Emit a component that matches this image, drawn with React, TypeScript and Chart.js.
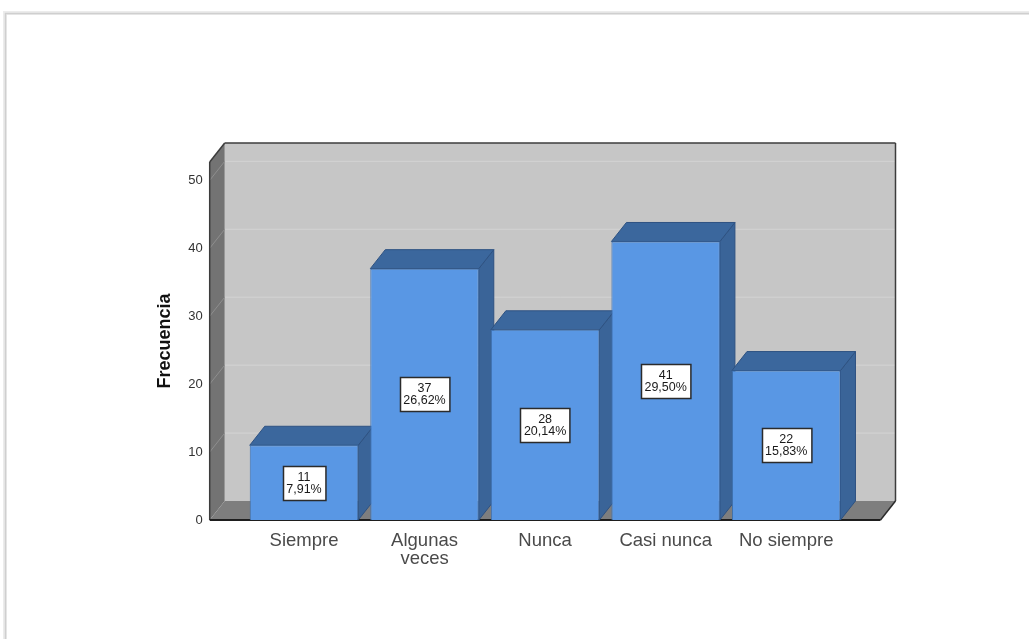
import { useEffect, useRef } from "react";
import { Chart, registerables } from "chart.js";

Chart.register(...registerables);

const categories: (string | string[])[] = ["Siempre", ["Algunas", "veces"], "Nunca", "Casi nunca", "No siempre"];
const frequencies = [11, 37, 28, 41, 22];
const percentLabels = ["7,91%", "26,62%", "20,14%", "29,50%", "15,83%"];
const yTicks = [0, 10, 20, 30, 40, 50];
const yMax = 52.7;
const yTitle = "Frecuencia";

const FONT = "'Liberation Sans', Arial, sans-serif";
const DX = 15;
const DY = 19;
const WALL = 34;

function poly(ctx: CanvasRenderingContext2D, pts: number[][], fill: string, stroke?: string, lw = 1) {
  ctx.beginPath();
  ctx.moveTo(pts[0][0], pts[0][1]);
  for (let i = 1; i < pts.length; i++) ctx.lineTo(pts[i][0], pts[i][1]);
  ctx.closePath();
  ctx.fillStyle = fill;
  ctx.fill();
  if (stroke) {
    ctx.strokeStyle = stroke;
    ctx.lineWidth = lw;
    ctx.stroke();
  }
}

function line(ctx: CanvasRenderingContext2D, x1: number, y1: number, x2: number, y2: number, color: string, lw = 1) {
  ctx.beginPath();
  ctx.moveTo(x1, y1);
  ctx.lineTo(x2, y2);
  ctx.strokeStyle = color;
  ctx.lineWidth = lw;
  ctx.stroke();
}

const threeD = {
  id: "threeD",
  beforeDraw(chart: any) {
    const ctx = chart.ctx as CanvasRenderingContext2D;
    ctx.save();
    ctx.fillStyle = "#ffffff";
    ctx.fillRect(0, 0, chart.width, chart.height);
    ctx.strokeStyle = "#ececec";
    ctx.lineWidth = 4;
    ctx.strokeRect(5, 13, chart.width + 40, chart.height + 40);
    ctx.strokeStyle = "#cfcfcf";
    ctx.lineWidth = 1.5;
    ctx.strokeRect(5.5, 13.5, chart.width + 40, chart.height + 40);
    ctx.restore();
  },
  beforeDatasetsDraw(chart: any) {
    const ctx = chart.ctx as CanvasRenderingContext2D;
    const a = chart.chartArea;
    const ys = chart.scales.y;
    const fl = a.left - WALL, fr = a.right + WALL, ft = a.top, fb = a.bottom;
    const bl = fl + DX, br = fr + DX, bt = ft - DY, bb = fb - DY;
    ctx.save();
    // back wall
    ctx.fillStyle = "#c6c6c6";
    ctx.fillRect(bl, bt, br - bl, bb - bt);
    yTicks.forEach((v) => {
      if (v === 0) return;
      const py = ys.getPixelForValue(v) - DY;
      line(ctx, bl, py, br, py, "#d4d4d4", 1);
    });
    // left wall
    poly(ctx, [[fl, ft], [bl, bt], [bl, bb], [fl, fb]], "#737373");
    yTicks.forEach((v) => {
      if (v === 0) return;
      const py = ys.getPixelForValue(v);
      line(ctx, fl, py, bl, py - DY, "#8e8e8e", 1);
    });
    // floor
    poly(ctx, [[fl, fb], [bl, bb], [br, bb], [fr, fb]], "#7e7e7e");
    // outlines
    line(ctx, fl, ft, bl, bt, "#3c3c3c", 1.5);
    line(ctx, bl, bt, br, bt, "#3c3c3c", 1.5);
    line(ctx, br, bt, br, bb, "#3c3c3c", 1.5);
    line(ctx, br, bb, fr, fb, "#2a2a2a", 1.5);
    line(ctx, fl, ft, fl, fb, "#3c3c3c", 1.5);
    line(ctx, fl, fb, fr, fb, "#1e1e1e", 2);
    // bar sides and tops
    const meta = chart.getDatasetMeta(0);
    meta.data.forEach((bar: any) => {
      const { x, y, base, width } = bar.getProps(["x", "y", "base", "width"], true);
      const xl = x - width / 2, xr = x + width / 2;
      poly(ctx, [[xr, y], [xr + DX, y - DY], [xr + DX, base - DY], [xr, base]], "#3a6498", "#2e5282", 1);
      poly(ctx, [[xl, y], [xl + DX, y - DY], [xr + DX, y - DY], [xr, y]], "#3b679d", "#2e5282", 1);
    });
    ctx.restore();
  },
  afterDatasetsDraw(chart: any) {
    const ctx = chart.ctx as CanvasRenderingContext2D;
    const meta = chart.getDatasetMeta(0);
    ctx.save();
    ctx.font = `12.5px ${FONT}`;
    ctx.textAlign = "center";
    ctx.textBaseline = "middle";
    meta.data.forEach((bar: any, i: number) => {
      const { x, y, base } = bar.getProps(["x", "y", "base"], true);
      const cy = (y + base) / 2;
      const t1 = String(frequencies[i]);
      const t2 = percentLabels[i];
      const w = Math.max(ctx.measureText(t1).width, ctx.measureText(t2).width) + 7;
      const h = 34;
      const bx = Math.round(x - w / 2) + 0.5;
      const by = Math.round(cy - h / 2) + 0.5;
      ctx.fillStyle = "#ffffff";
      ctx.fillRect(bx, by, w, h);
      ctx.strokeStyle = "#2b2b2b";
      ctx.lineWidth = 1.5;
      ctx.strokeRect(bx, by, w, h);
      ctx.fillStyle = "#1a1a1a";
      ctx.fillText(t1, x, cy - 5.5);
      ctx.fillText(t2, x, cy + 6.5);
    });
    ctx.restore();
  },
};

export default function App() {
  const ref = useRef<HTMLCanvasElement | null>(null);
  useEffect(() => {
    if (!ref.current) return;
    const chart = new Chart(ref.current, {
      type: "bar",
      data: {
        labels: categories as any,
        datasets: [
          {
            data: frequencies,
            backgroundColor: "#5997e4",
            borderColor: "#3f71b0",
            borderWidth: 1,
            barPercentage: 0.9,
            categoryPercentage: 1,
          },
        ],
      },
      options: {
        animation: false,
        responsive: false,
        devicePixelRatio: 1,
        layout: { padding: { left: 156, top: 162, right: 182.5, bottom: 0 } },
        plugins: { legend: { display: false }, tooltip: { enabled: false } },
        scales: {
          x: {
            offset: true,
            grid: { display: false, drawTicks: false },
            border: { display: false },
            afterFit: (s: any) => {
              s.height = 119;
            },
            ticks: {
              padding: 11.5,
              color: "#4a4a4a",
              maxRotation: 0,
              autoSkip: false,
              font: { family: FONT, size: 18.5, lineHeight: 0.97 },
            },
          },
          y: {
            min: 0,
            max: yMax,
            grid: { display: false, drawTicks: false },
            border: { display: false },
            afterBuildTicks: (s: any) => {
              s.ticks = yTicks.map((v) => ({ value: v }));
            },
            afterFit: (s: any) => {
              s.width = 87.7;
            },
            ticks: {
              padding: 41,
              color: "#333333",
              font: { family: FONT, size: 13 },
            },
            title: {
              display: true,
              text: yTitle,
              color: "#111111",
              padding: 0,
              font: { family: FONT, size: 18, weight: "bold", lineHeight: 1 },
            },
          },
        },
      },
      plugins: [threeD],
    });
    return () => chart.destroy();
  }, []);
  return (
    <canvas
      ref={ref}
      width={1029}
      height={639}
      style={{ position: "fixed", left: 0, top: 0, width: 1029, height: 639 }}
    />
  );
}
